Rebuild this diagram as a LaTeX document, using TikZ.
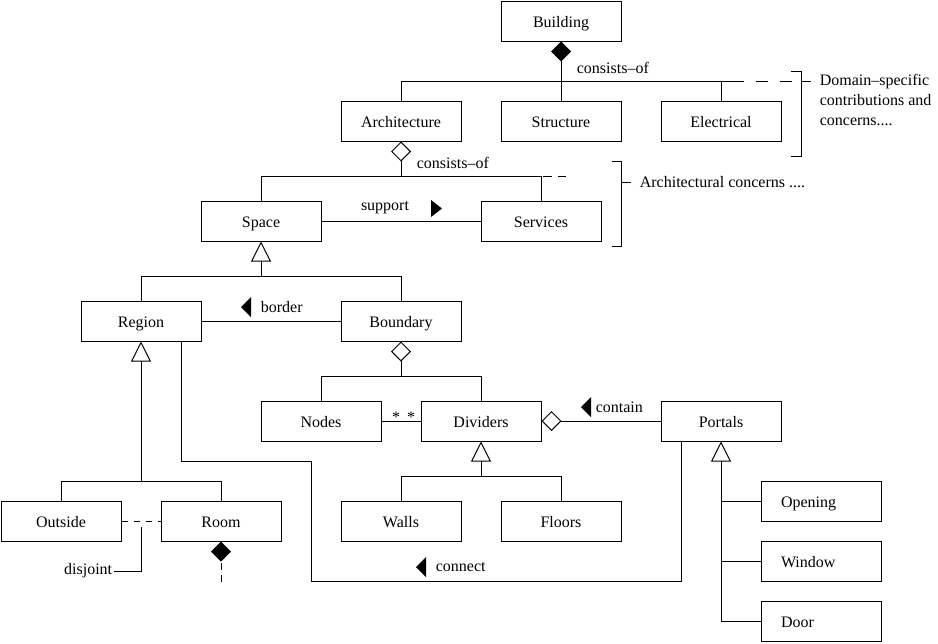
\documentclass[tikz,border=0pt]{standalone}
\usepackage{fontspec}
\setmainfont{Liberation Serif}
\usetikzlibrary{arrows.meta}
\begin{document}
\begin{tikzpicture}[x=0.75pt,y=-0.75pt, % one unit is one pixel, y runs down
    font=\fontsize{12}{15}\selectfont,
    line width=0.75pt,
    box/.style={draw, minimum width=90pt, minimum height=30pt, inner sep=0pt,
        text height=9pt, text depth=0pt},
    leftbox/.style={box, text width=60pt, align=left},
    lbl/.style={inner sep=1pt},
    comp/.style={-{Diamond[length=15pt,width=15pt]}},
    agg/.style={-{Diamond[open,length=15pt,width=15pt]}},
    gen/.style={-{Triangle[open,length=15pt,width=15pt]}},
    gap/.style={dash pattern=on 9pt off 9pt, dash phase=9pt}]
\useasboundingbox (0,0) rectangle (938,643);
% the classes
\node[box] (bldg) at (561,21) {Building};
\node[box] (arch) at (401,121) {Architecture};
\node[box] (struc) at (561,121) {Structure};
\node[box] (elec) at (721,121) {Electrical};
\node[box] (space) at (261,221) {Space};
\node[box] (serv) at (541,221) {Services};
\node[box] (region) at (141,321) {Region};
\node[box] (bound) at (401,321) {Boundary};
\node[box] (nodes) at (321,421) {Nodes};
\node[box] (div) at (481,421) {Dividers};
\node[box] (portals) at (721,421) {Portals};
\node[box] (outside) at (61,521) {Outside};
\node[box] (room) at (221,521) {Room};
\node[box] (walls) at (401,521) {Walls};
\node[box] (floors) at (561,521) {Floors};
\node[leftbox] (opening) at (821,501) {Opening};
\node[leftbox] (window) at (821,561) {Window};
\node[leftbox] (door) at (821,621) {Door};
% building consists of domains
\coordinate (dom1) at (744,81);
\coordinate (dom2) at (793,81);
\draw[comp] (struc.north) -- (bldg.south);
\draw (arch.north) |- (dom1);
\draw (elec.north) -- (elec.north |- dom1);
\draw[gap] (dom1) -- (dom2);
\node[lbl, anchor=west] (cons1) at (575,68) {consists--of};
% architecture consists of spaces
\coordinate (bar2) at (401,176);
\coordinate (arc1) at (543,176);
\coordinate (arc2) at (568,176);
\draw (space.north) |- (serv.north |- bar2) -- (serv.north);
\draw[agg] (bar2) -- (arch.south);
\draw[dash pattern=on 6.5pt off 4.5pt] (arc1) -- (arc2);
\node[lbl, anchor=west] (cons2) at (415,163) {consists--of};
% support
\draw (space) -- (serv);
\node[lbl] (supp) at (385,208) {support};
\fill (431,200) -- (442,208.5) -- (431,217) -- cycle;
% brackets
\draw (791,71) -- (801,71) -- (801,156) -- (791,156);
\draw (801,81) -- (811,81);
\node[lbl, anchor=north west, align=left] (domtxt) at (818,72)
    {Domain--specific\\contributions and\\concerns....};
\draw (612,161) -- (621,161) -- (621,246) -- (612,246);
\draw (621,182) -- (631,182);
\node[lbl, anchor=west] (archtxt) at (638,182) {Architectural concerns ....};
% space kinds
\coordinate (bar3) at (261,276);
\draw (region.north) |- (bound.north |- bar3) -- (bound.north);
\draw[gen] (bar3) -- (space.south);
\draw (region) -- (bound);
\fill (251,297) -- (241,307) -- (251,317) -- cycle;
\node[lbl, anchor=west] (bord) at (259,307) {border};
% boundary parts
\coordinate (bar4) at (401,376);
\draw (nodes.north) |- (div.north |- bar4) -- (div.north);
\draw[agg] (bar4) -- (bound.south);
\draw (nodes) -- (div);
\node[lbl] (mult1) at (396,417) {*};
\node[lbl] (mult2) at (411,417) {*};
% dividers contain portals
\draw[agg] (portals) -- (div);
\fill (591,397) -- (581,407) -- (591,417) -- cycle;
\node[lbl, anchor=west] (cont) at (594,407) {contain};
% divider kinds
\coordinate (bar5) at (481,476);
\draw (walls.north) |- (floors.north |- bar5) -- (floors.north);
\draw[gen] (bar5) -- (div.south);
% region kinds
\coordinate (bar6) at (141,481);
\draw (outside.north) |- (room.north |- bar6) -- (room.north);
\draw[gen] (bar6) -- (region.south);
\draw[dash pattern=on 5pt off 4pt] (outside) -- (room);
\coordinate (dj) at (141,527);
\node[lbl, anchor=east] (disj) at (114,571) {disjoint};
\draw (dj) |- (disj.east);
\coordinate (roomend) at (221,582);
\draw[comp, dash pattern=on 5.25pt off 3.75pt] (roomend) -- (room.south);
% connect
\draw ([xshift=30pt]region.south) |- (311,461) |- (681,581)
    -- ([xshift=-30pt]portals.south);
\fill (426,557) -- (416,567) -- (426,577) -- cycle;
\node[lbl, anchor=west] (conn) at (434,567) {connect};
% portal kinds
\draw[gen] (door.west) -| (portals.south);
\draw (opening.west) -- (opening.west -| portals.south);
\draw (window.west) -- (window.west -| portals.south);
\end{tikzpicture}
\end{document}
